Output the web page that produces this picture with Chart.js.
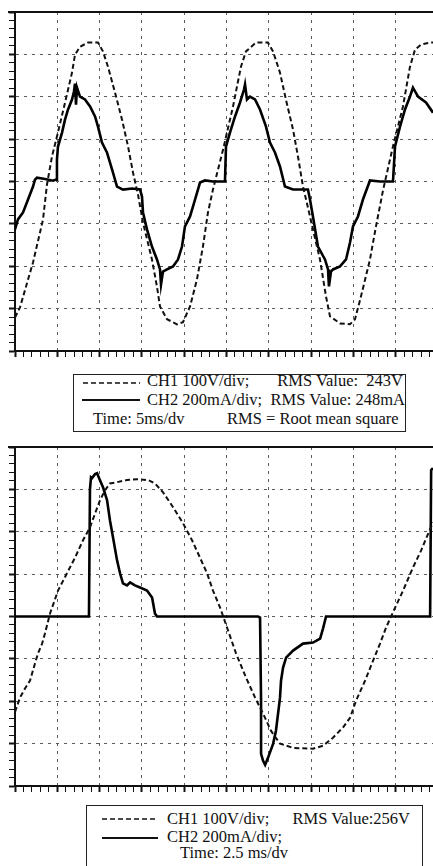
<!DOCTYPE html>
<html lang="en">
<head>
  <meta charset="UTF-8">
  <title>CH1 / CH2 oscilloscope traces</title>
  <script src="https://cdn.jsdelivr.net/npm/chart.js"></script>
  <style>
    body { margin: 0; background: #fff; }
    #page { position: relative; width: 433px; height: 866px; overflow: hidden; background: #fff; }
    canvas { position: absolute; left: 0; }
    .frame { position: absolute; left: 8px; width: 425px; height: 2px; background: #111; }
    .box { position: absolute; border: 1.5px solid #222; background: #fff; }
    .txt {
      position: absolute; font-family: 'Liberation Serif', 'Times New Roman', serif;
      font-size: 16.5px; line-height: 18px; color: #111; white-space: nowrap;
    }
    svg.key { position: absolute; overflow: visible; }
  </style>
</head>
<body>
<div id="page">
  <canvas id="scopeA" width="433" height="360" style="top:0"></canvas>
  <canvas id="scopeB" width="433" height="360" style="top:435px"></canvas>
  <div class="frame" style="top:11px"></div>
  <div class="frame" style="top:446px"></div>

  <div class="box" style="left:73px; top:374px; width:331px; height:56px"></div>
  <svg class="key" style="left:83px; top:382px" width="58" height="2"><line x1="0" y1="1" x2="57" y2="1" stroke="#111" stroke-width="1.6" stroke-dasharray="5 3"/></svg>
  <div class="txt" style="left:147px; top:372px">CH1 100V/div;</div>
  <div class="txt" style="right:30px; top:372px">RMS Value:&nbsp; 243V</div>
  <svg class="key" style="left:82px; top:399px" width="58" height="2"><line x1="0" y1="1" x2="58" y2="1" stroke="#111" stroke-width="2"/></svg>
  <div class="txt" style="left:147px; top:391px">CH2 200mA/div;</div>
  <div class="txt" style="right:28px; top:391px">RMS Value: 248mA</div>
  <div class="txt" style="left:93px; top:410px">Time: 5ms/dv</div>
  <div class="txt" style="left:227px; top:410px">RMS = Root mean square</div>

  <div class="box" style="left:86px; top:805px; width:335px; height:80px"></div>
  <svg class="key" style="left:102px; top:818px" width="58" height="2"><line x1="0" y1="1" x2="56" y2="1" stroke="#111" stroke-width="1.6" stroke-dasharray="5 3"/></svg>
  <div class="txt" style="left:167px; top:810px">CH1 100V/div;</div>
  <div class="txt" style="right:23px; top:810px">RMS Value:256V</div>
  <svg class="key" style="left:102px; top:837px" width="58" height="2"><line x1="0" y1="1" x2="56" y2="1" stroke="#111" stroke-width="2"/></svg>
  <div class="txt" style="left:167px; top:828px">CH2 200mA/div;</div>
  <div class="txt" style="left:180px; top:844px">Time: 2.5 ms/dv</div>
</div>

<script>
// ---- panel A: 5 ms/div, CH1 voltage (V) and CH2 current (mA) ----
const timeA_V = [0, 0.59, 2.13, 3.31, 3.78, 4.37, 5.08, 5.91, 6.74, 7.09, 7.68, 8.63, 9.81, 10.40, 10.99,
  11.82, 12.65, 13.36, 13.95, 14.54, 15.13, 16.19, 16.78, 17.14, 17.97, 19.15, 19.86, 20.69, 21.51, 22.22,
  22.81, 23.40, 24.59, 25.77, 26.71, 27.30, 28.49, 29.90, 30.50, 31.32, 32.03, 32.86, 33.45, 34.04, 34.40,
  35.22, 36.05, 36.76, 37.23, 38.42, 39.60, 40.19, 40.90, 41.96, 42.67, 43.50, 44.68, 45.86, 46.69, 47.28,
  47.99, 49.05, 49.41];
const voltA = [-321, -297, -191, -90, -7, 59, 116, 186, 257, 299, 318, 328, 328, 307, 271,
  210, 146, 83, 21, -31, -97, -184, -248, -295, -325, -337, -332, -295, -231, -153,
  -73, -19, 75, 177, 271, 307, 328, 328, 307, 257, 193, 123, 59, -12, -42,
  -113, -184, -271, -318, -335, -337, -325, -271, -184, -106, -21, 83, 177, 271, 311,
  323, 328, 328];

const timeA_I = [0, 0.35, 0.95, 1.54, 2.13, 2.36, 2.60, 3.55, 4.49, 4.85, 4.96, 5.08, 5.56,
  5.91, 6.27, 6.74, 6.97, 7.09, 7.21, 7.33, 7.68, 8.27, 8.87, 9.46, 9.81, 10.28, 10.87, 11.47,
  12.06, 12.77, 13.83, 14.78, 15.01, 15.13, 15.60, 16.19, 16.78, 17.14, 17.26, 17.49, 17.97,
  18.68, 19.27, 19.74, 20.09, 20.69, 21.28, 21.87, 22.46, 23.40, 24.82, 24.94, 25.41, 26.01,
  26.60, 27.07, 27.19, 27.42, 27.78, 28.37, 28.96, 29.67, 30.14, 30.73, 31.32, 31.91, 32.86,
  34.63, 34.87, 35.22, 35.81, 36.64, 37.00, 37.11, 37.35, 37.59, 38.42, 39.13, 39.60, 39.95, 40.54, 41.13,
  41.96, 43.14, 44.68, 44.92, 45.51, 46.10, 46.69, 47.04, 47.64, 48.58, 49.41];
const currA = [-226, -179, -146, -85, -24, 9, 18, 12, 4, 9, 104, 165, 231,
  292, 340, 387, 425, 462, 363, 443, 401, 387, 354, 307, 259, 184, 137, 57,
  -24, -38, -33, -38, -71, -146, -226, -307, -368, -415, -486, -425, -415,
  -401, -368, -307, -212, -165, -85, -5, 5, 0, 0, 165, 231, 307,
  373, 434, 458, 387, 401, 387, 340, 259, 184, 137, 71, -24, -38,
  -38, -85, -165, -307, -368, -415, -495, -425, -415, -401, -368, -288, -212, -165, -85,
  5, 0, 0, 165, 259, 340, 401, 443, 401, 373, 325];

// ---- panel B: 2.5 ms/div ----
const timeB_V = [0, 0.30, 0.59, 0.89, 1.18, 1.36, 1.60, 1.77, 2.07, 2.54, 3.07, 3.55, 4.02, 4.43, 4.73,
  5.02, 5.32, 5.61, 6.03, 6.62, 7.21, 7.86, 8.27, 8.75, 9.34, 9.93, 10.46, 10.93, 11.35, 11.70,
  12.12, 12.59, 13.06, 13.65, 14.18, 14.66, 15.13, 15.66, 16.43, 17.61, 18.20, 18.79, 19.38, 19.80, 20.15,
  20.69, 21.16, 21.57, 21.93, 22.46, 22.93, 23.52, 24.00, 24.29, 24.70];
const voltB = [-225, -191, -170, -151, -111, -87, -64, -40, 7, 61, 102, 139, 180, 210, 243,
  274, 298, 314, 317, 322, 324, 322, 314, 293, 258, 220, 180, 139, 102, 61,
  21, -33, -87, -144, -191, -229, -270, -300, -310, -312, -305, -286, -262, -239, -199,
  -151, -104, -64, -26, 21, 61, 116, 156, 184, 222];

const timeB_I = [0, 4.37, 4.43, 4.49, 4.55, 4.73, 4.85, 5.02,
  5.20, 5.44, 5.61, 5.79, 6.03, 6.21, 6.38, 6.62, 6.80, 7.09, 7.39, 7.80, 8.10, 8.27, 8.39,
  14.36, 14.48, 14.54, 14.54, 14.66, 14.78, 14.95, 15.25,
  15.42, 15.66, 15.72, 15.84, 16.02, 16.43, 17.02, 17.61, 18.03, 18.20, 18.38,
  24.53, 24.59, 24.70];
const currB = [0, 0, 600, 657, 653, 672, 676, 643,
  610, 549, 454, 374, 265, 203, 156, 147, 161, 147, 137, 123, 90, 14, 0,
  0, -5, -397, -648, -681, -700, -667, -601,
  -539, -383, -303, -241, -194, -161, -128, -123, -104, -57, 0,
  0, 691, 700];

const voltPerDiv = 100;   // CH1
const ampPerDiv = 200;    // CH2 (mA)
const divsY = 8;

const pts = (ts, vs) => ts.map((t, i) => ({ x: t, y: vs[i] }));
const isMajor = (v, step) => Math.abs(v / step - Math.round(v / step)) < 1e-6;

function makeScope(id, tV, v, tI, cur, msPerDiv, xMax) {
  const gridCol = '#5a5a5a';
  const vTop = voltPerDiv * divsY / 2;
  new Chart(document.getElementById(id), {
    type: 'line',
    data: {
      datasets: [
        { label: 'CH1', data: pts(tV, v), yAxisID: 'y', borderColor: '#111', borderWidth: 2,
          borderDash: [5, 3], pointRadius: 0, tension: 0, fill: false },
        { label: 'CH2', data: pts(tI, cur), yAxisID: 'y2', borderColor: '#000', borderWidth: 2.6,
          pointRadius: 0, tension: 0, fill: false }
      ]
    },
    options: {
      responsive: false,
      animation: false,
      events: [],
      layout: { padding: { left: 9, top: 12, right: 0, bottom: 3 } },
      plugins: { legend: { display: false }, tooltip: { enabled: false } },
      scales: {
        x: {
          type: 'linear', min: 0, max: xMax,
          ticks: { display: false, stepSize: msPerDiv / 5, autoSkip: false, includeBounds: false },
          grid: {
            color: c => (isMajor(c.tick.value, msPerDiv) && c.tick.value > 0) ? gridCol : 'rgba(0,0,0,0)',
            tickColor: '#111',
            tickWidth: c => isMajor(c.tick.value, msPerDiv) ? 2 : 1,
            tickLength: 6
          },
          border: { color: '#111', width: 2, dash: [3, 5] }
        },
        y: {
          min: -vTop, max: vTop,
          ticks: { display: false, stepSize: voltPerDiv / 5, autoSkip: false },
          grid: {
            color: c => (isMajor(c.tick.value, voltPerDiv) && Math.abs(c.tick.value) < vTop) ? gridCol : 'rgba(0,0,0,0)',
            tickColor: '#111',
            tickWidth: c => isMajor(c.tick.value, voltPerDiv) ? 2 : 1,
            tickLength: 6
          },
          border: { color: '#111', width: 2, dash: [3, 5] }
        },
        y2: {
          display: false,
          min: -ampPerDiv * divsY / 2, max: ampPerDiv * divsY / 2
        }
      }
    }
  });
}

makeScope('scopeA', timeA_V, voltA, timeA_I, currA, 5, 49.41);
makeScope('scopeB', timeB_V, voltB, timeB_I, currB, 2.5, 24.70);
</script>
</body>
</html>
